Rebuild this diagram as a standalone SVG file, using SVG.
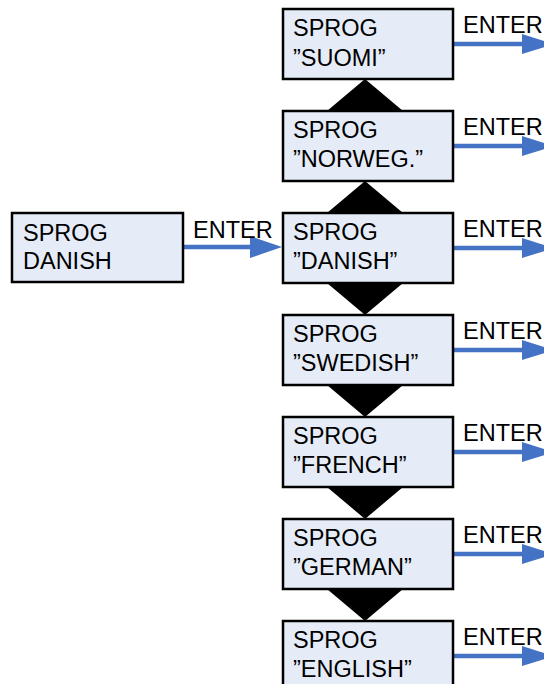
<svg xmlns="http://www.w3.org/2000/svg" width="544" height="684" viewBox="0 0 544 684">
<style>
.box{fill:#E6ECF7;stroke:#000;stroke-width:2.5}
.t{font-family:"Liberation Sans",Arial,sans-serif;font-size:23.5px;fill:#000}
.ln{stroke:#4472C4;stroke-width:4.5;fill:none}
.ah{fill:#4472C4}
.tri{fill:#000}
</style>
<rect width="544" height="684" fill="#fff"/>
<g id="triangles">
<polygon class="tri" points="365,79 327,111 403,111"/>
<polygon class="tri" points="365,181 327,213 403,213"/>
<polygon class="tri" points="327,283 403,283 365,315"/>
<polygon class="tri" points="327,385 403,385 365,417"/>
<polygon class="tri" points="327,487 403,487 365,519"/>
<polygon class="tri" points="327,589 403,589 365,621"/>
</g>
<g id="connectors">
<line class="ln" x1="183" y1="247" x2="252" y2="247"/>
<polygon class="ah" points="250,236 282,247 250,258"/>
<text class="t" x="193" y="238">ENTER</text>
<line class="ln" x1="453" y1="44" x2="524" y2="44"/><polygon class="ah" points="522,34 554,44 522,54"/><text class="t" x="463" y="33">ENTER</text>
<line class="ln" x1="453" y1="146" x2="524" y2="146"/><polygon class="ah" points="522,136 554,146 522,156"/><text class="t" x="463" y="135">ENTER</text>
<line class="ln" x1="453" y1="248" x2="524" y2="248"/><polygon class="ah" points="522,238 554,248 522,258"/><text class="t" x="463" y="237">ENTER</text>
<line class="ln" x1="453" y1="350" x2="524" y2="350"/><polygon class="ah" points="522,340 554,350 522,360"/><text class="t" x="463" y="339">ENTER</text>
<line class="ln" x1="453" y1="452" x2="524" y2="452"/><polygon class="ah" points="522,442 554,452 522,462"/><text class="t" x="463" y="441">ENTER</text>
<line class="ln" x1="453" y1="554" x2="524" y2="554"/><polygon class="ah" points="522,544 554,554 522,564"/><text class="t" x="463" y="543">ENTER</text>
<line class="ln" x1="453" y1="656" x2="524" y2="656"/><polygon class="ah" points="522,646 554,656 522,666"/><text class="t" x="463" y="645">ENTER</text>
</g>
<g id="node-left"><rect class="box" x="12" y="213" width="171" height="69"/><text class="t" x="23" y="241">SPROG</text><text class="t" x="23" y="269">DANISH</text></g>
<g id="node-suomi"><rect class="box" x="283" y="9" width="170" height="70"/><text class="t" x="293" y="36">SPROG</text><text class="t" x="293" y="66">”SUOMI”</text></g>
<g id="node-norweg"><rect class="box" x="283" y="111" width="170" height="70"/><text class="t" x="293" y="138">SPROG</text><text class="t" x="293" y="167">”NORWEG.”</text></g>
<g id="node-danish"><rect class="box" x="283" y="213" width="170" height="70"/><text class="t" x="293" y="240">SPROG</text><text class="t" x="293" y="269">”DANISH”</text></g>
<g id="node-swedish"><rect class="box" x="283" y="315" width="170" height="70"/><text class="t" x="293" y="342">SPROG</text><text class="t" x="293" y="371">”SWEDISH”</text></g>
<g id="node-french"><rect class="box" x="283" y="417" width="170" height="70"/><text class="t" x="293" y="444">SPROG</text><text class="t" x="293" y="473">”FRENCH”</text></g>
<g id="node-german"><rect class="box" x="283" y="519" width="170" height="70"/><text class="t" x="293" y="546">SPROG</text><text class="t" x="293" y="575">”GERMAN”</text></g>
<g id="node-english"><rect class="box" x="283" y="621" width="170" height="70"/><text class="t" x="293" y="648">SPROG</text><text class="t" x="293" y="677">”ENGLISH”</text></g>
</svg>
